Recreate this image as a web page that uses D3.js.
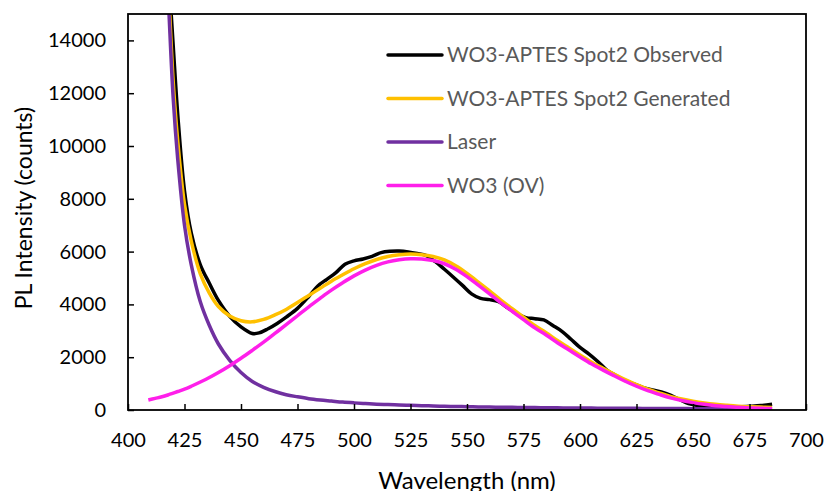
<!DOCTYPE html>
<html>
<head>
<meta charset="utf-8">
<script src="https://cdn.jsdelivr.net/npm/d3@7"></script>
<style>
  body { margin: 0; background: #fff; }
  svg { display: block; font-family: Lato, "Open Sans", sans-serif; }
</style>
</head>
<body>
<div id="chart"></div>
<script>
// wavelength grid shared by the fitted curves (nm)
var gridNm = [409, 412, 415, 418, 420, 422, 425, 428, 432, 436, 440, 445, 450, 455, 460, 465, 470, 475, 480, 485,
    490, 495, 500, 505, 510, 515, 520, 525, 530, 535, 540, 545, 550, 555, 560, 565, 570, 575, 580, 585,
    590, 595, 600, 605, 610, 615, 620, 625, 630, 635, 640, 645, 650, 655, 660, 665, 670, 675, 680, 685];

var laser = [48000, 30000, 21000, 15300, 11800, 9500, 7000, 5500, 4100, 3200, 2500, 1880, 1420, 1080, 860, 700, 580, 500, 430, 380,
    340, 300, 270, 245, 222, 205, 190, 176, 164, 152, 142, 133, 125, 118, 111, 105, 100, 95, 90, 86,
    82, 78, 75, 72, 69, 66, 64, 62, 60, 58, 56, 54, 52, 50, 49, 47, 46, 45, 44, 43];

var wo3ov = [380, 440, 500, 580, 640, 700, 790, 900, 1060, 1230, 1420, 1680, 1960, 2260, 2570, 2900, 3230, 3570, 3910, 4230,
    4540, 4820, 5080, 5300, 5480, 5610, 5690, 5730, 5720, 5660, 5540, 5330, 5050, 4730, 4400, 4060, 3740, 3420, 3110, 2840,
    2550, 2280, 2010, 1750, 1520, 1300, 1090, 900, 730, 590, 460, 360, 280, 215, 165, 130, 100, 80, 65, 55];

var generated = [48380, 30440, 21500, 15880, 12440, 10200, 7790, 6400, 5160, 4430, 3920, 3560, 3380, 3340, 3430, 3600, 3810, 4070, 4340, 4610,
    4880, 5120, 5350, 5545, 5700, 5815, 5880, 5906, 5884, 5812, 5682, 5463, 5175, 4848, 4511, 4165, 3840, 3515, 3200, 2926,
    2632, 2358, 2085, 1822, 1589, 1366, 1154, 962, 790, 648, 516, 414, 332, 265, 214, 177, 146, 125, 109, 98];

// observed spectrum (nm / counts)
var obsNm = [418, 420, 422, 425, 428, 432, 436, 440, 445, 450, 455, 458, 462, 466, 470, 475, 480, 484, 488, 492,
    496, 500, 504, 508, 512, 516, 520, 524, 528, 532, 536, 540, 544, 548, 552, 556, 560, 564, 568, 572,
    576, 580, 584, 588, 592, 596, 600, 604, 608, 612, 616, 620, 624, 628, 632, 636, 640, 644, 648, 652,
    656, 660, 665, 670, 675, 680, 685];
var observed = [16500, 13800, 11200, 8300, 6700, 5500, 4800, 4150, 3550, 3150, 2900, 2920, 3080, 3280, 3520, 3850, 4300, 4700, 4950, 5200,
    5520, 5650, 5720, 5820, 5960, 6010, 6020, 5990, 5930, 5850, 5620, 5330, 5030, 4720, 4400, 4230, 4180, 4100, 3870, 3650,
    3500, 3460, 3410, 3200, 2980, 2680, 2370, 2120, 1830, 1500, 1300, 1120, 980, 850, 760, 680, 560, 400, 240, 170,
    130, 115, 110, 115, 140, 170, 220];

var xTicks = d3.range(400, 701, 25);
var yTicks = d3.range(0, 14001, 2000);

var series = [
    { name: "WO3-APTES Spot2 Observed", color: "#000000", x: obsNm, y: observed },
    { name: "WO3-APTES Spot2 Generated", color: "#FFC000", x: gridNm, y: generated },
    { name: "Laser", color: "#7030A0", x: gridNm, y: laser },
    { name: "WO3 (OV)", color: "#FF1FEA", x: gridNm, y: wo3ov }
];

var width = 828, height = 491;
var margin = { left: 128, top: 14, right: 22, bottom: 81 };

var svg = d3.select('#chart').append('svg')
    .attr('width', width)
    .attr('height', height);

var x = d3.scaleLinear().domain([400, 700]).range([margin.left, width - margin.right]);
var y = d3.scaleLinear().domain([0, 15000]).range([height - margin.bottom, margin.top]);

svg.append('clipPath').attr('id', 'plot-clip')
    .append('rect')
    .attr('x', margin.left)
    .attr('y', margin.top)
    .attr('width', width - margin.left - margin.right)
    .attr('height', height - margin.top - margin.bottom);

// series lines
var line = d3.line()
    .x(function (d) { return x(d[0]); })
    .y(function (d) { return y(d[1]); })
    .curve(d3.curveCatmullRom.alpha(0.5));

svg.append('g')
    .attr('clip-path', 'url(#plot-clip)')
    .selectAll('path')
    .data(series)
    .enter()
    .append('path')
    .attr('fill', 'none')
    .attr('stroke', function (d) { return d.color; })
    .attr('stroke-width', 3.5)
    .attr('stroke-linejoin', 'round')
    .attr('d', function (d) {
        return line(d.x.map(function (v, i) { return [v, d.y[i]]; }));
    });

// axes, ticks pointing inward
var xAxis = svg.append('g')
    .attr('transform', 'translate(0,' + y(0) + ')')
    .call(d3.axisBottom(x).tickValues(xTicks).tickSizeInner(-6).tickSizeOuter(0).tickPadding(23));

var yAxis = svg.append('g')
    .attr('transform', 'translate(' + margin.left + ',0)')
    .call(d3.axisLeft(y).tickValues(yTicks).tickFormat(d3.format('d'))
        .tickSizeInner(-6).tickSizeOuter(0).tickPadding(22));

[xAxis, yAxis].forEach(function (a) {
    a.select('.domain').remove();
    a.selectAll('line').attr('stroke', '#000').attr('stroke-width', 1.5);
    a.selectAll('text')
        .attr('fill', '#000')
        .style('font-family', 'Lato, sans-serif')
        .style('font-size', '20px');
});

// frame
svg.append('rect')
    .attr('x', margin.left)
    .attr('y', margin.top)
    .attr('width', width - margin.left - margin.right)
    .attr('height', height - margin.top - margin.bottom)
    .attr('fill', 'none')
    .attr('stroke', '#000')
    .attr('stroke-width', 1.8);

// axis titles
svg.append('text')
    .attr('x', 467)
    .attr('y', 489)
    .attr('text-anchor', 'middle')
    .attr('style', 'font-size: 24px; fill: #000;')
    .text('Wavelength (nm)');

svg.append('text')
    .attr('transform', 'translate(32,208) rotate(-90)')
    .attr('text-anchor', 'middle')
    .attr('style', 'font-size: 23px; fill: #000;')
    .text('PL Intensity (counts)');

// legend
var legend = svg.append('g').attr('transform', 'translate(388,55)');
var items = legend.selectAll('g')
    .data(series)
    .enter()
    .append('g')
    .attr('transform', function (d, i) { return 'translate(0,' + (i * 43.5) + ')'; });

items.append('line')
    .attr('x1', 0).attr('x2', 54)
    .attr('stroke', function (d) { return d.color; })
    .attr('stroke-width', 3.5)
    .attr('stroke-linecap', 'round');

items.append('text')
    .attr('x', 59)
    .attr('dy', '0.35em')
    .attr('style', 'font-size: 21px; fill: #595959;')
    .text(function (d) { return d.name; });
</script>
</body>
</html>
